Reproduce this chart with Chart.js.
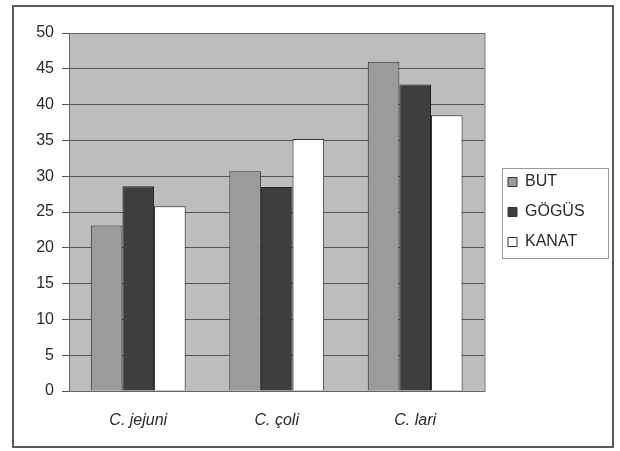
<!DOCTYPE html>
<html>
<head>
<meta charset="utf-8">
<script src="https://cdn.jsdelivr.net/npm/chart.js@4/dist/chart.umd.min.js"></script>
<style>
  html, body { margin: 0; padding: 0; background: #fff; }
  #wrap { width: 620px; height: 451px; }
</style>
</head>
<body>
<div id="wrap"><canvas id="chart" width="620" height="451"></canvas></div>
<script>
// data
const categories = ["C. jejuni", "C. çoli", "C. lari"];
const butValues = [23.1, 30.7, 46.0];
const gogusValues = [28.6, 28.5, 42.8];
const kanatValues = [25.8, 35.2, 38.5];
const seriesNames = ["BUT", "GÖGÜS", "KANAT"];

const fillColors = ["#9b9b9b", "#3e3e3e", "#ffffff"];
const fontFamily = "Arial, 'Liberation Sans', sans-serif";

// plot background, plot frame, outer frame, legend frame
const framePlugin = {
  id: "frames",
  afterLayout(chart) {
    // nudge the legend so its boxes sit where the original has them
    const lg = chart.legend;
    const w = lg.width;
    lg.left = 494;
    lg.right = lg.left + w;
  },
  beforeDraw(chart) {
    const ctx = chart.ctx;
    const a = chart.chartArea;
    ctx.save();
    ctx.fillStyle = "#bdbdbd";
    ctx.fillRect(a.left, a.top, a.right - a.left, a.bottom - a.top);
    ctx.restore();
  },
  afterDraw(chart) {
    const ctx = chart.ctx;
    const a = chart.chartArea;
    ctx.save();
    ctx.strokeStyle = "#666";
    ctx.lineWidth = 1;
    ctx.strokeRect(a.left + 0.5, a.top + 0.5, a.right - a.left, a.bottom - a.top);

    ctx.strokeStyle = "#5a5a5a";
    ctx.lineWidth = 2;
    ctx.strokeRect(13, 6, 600, 441);

    const boxes = chart.legend.legendHitBoxes;
    if (boxes && boxes.length) {
      const first = boxes[0];
      const last = boxes[boxes.length - 1];
      const top = Math.round(first.top - 6) + 0.5;
      const bottom = Math.round(last.top + last.height + 8) + 0.5;
      ctx.strokeStyle = "#999";
      ctx.lineWidth = 1;
      ctx.strokeRect(502.5, top, 106, bottom - top);
    }
    ctx.restore();
  }
};

new Chart("chart", {
  type: "bar",
  data: {
    labels: categories,
    datasets: [
      { label: seriesNames[0], data: butValues, backgroundColor: fillColors[0], borderColor: "#333", borderWidth: 1 },
      { label: seriesNames[1], data: gogusValues, backgroundColor: fillColors[1], borderColor: "#222", borderWidth: 1 },
      { label: seriesNames[2], data: kanatValues, backgroundColor: fillColors[2], borderColor: "#333", borderWidth: 1 }
    ]
  },
  options: {
    responsive: false,
    animation: false,
    events: [],
    layout: { padding: { left: 20, right: 35, top: 33, bottom: 4 } },
    datasets: {
      bar: { categoryPercentage: 0.685, barPercentage: 1 }
    },
    scales: {
      x: {
        grid: { display: false, drawTicks: false },
        border: { display: true, color: "#666" },
        ticks: {
          padding: 20,
          color: "#2a2a2a",
          font: { family: fontFamily, size: 16, style: "italic" }
        },
        afterFit(scale) { scale.height = 56; }
      },
      y: {
        min: 0,
        max: 50,
        grid: { color: "#555", tickLength: 7, lineWidth: 1 },
        border: { display: true, color: "#666" },
        ticks: {
          stepSize: 5,
          padding: 8,
          color: "#2a2a2a",
          font: { family: fontFamily, size: 16 }
        },
        afterFit(scale) { scale.width = 49; }
      }
    },
    plugins: {
      tooltip: { enabled: false },
      legend: {
        position: "right",
        fullSize: false,
        labels: {
          boxWidth: 9,
          boxHeight: 9,
          padding: 14,
          color: "#2a2a2a",
          font: { family: fontFamily, size: 16 },
          generateLabels(chart) {
            return chart.data.datasets.map((ds, i) => ({
              text: ds.label,
              fillStyle: ds.backgroundColor,
              strokeStyle: "#333",
              lineWidth: 1,
              fontColor: "#2a2a2a",
              datasetIndex: i,
              hidden: false
            }));
          }
        }
      }
    }
  },
  plugins: [framePlugin]
});
</script>
</body>
</html>
